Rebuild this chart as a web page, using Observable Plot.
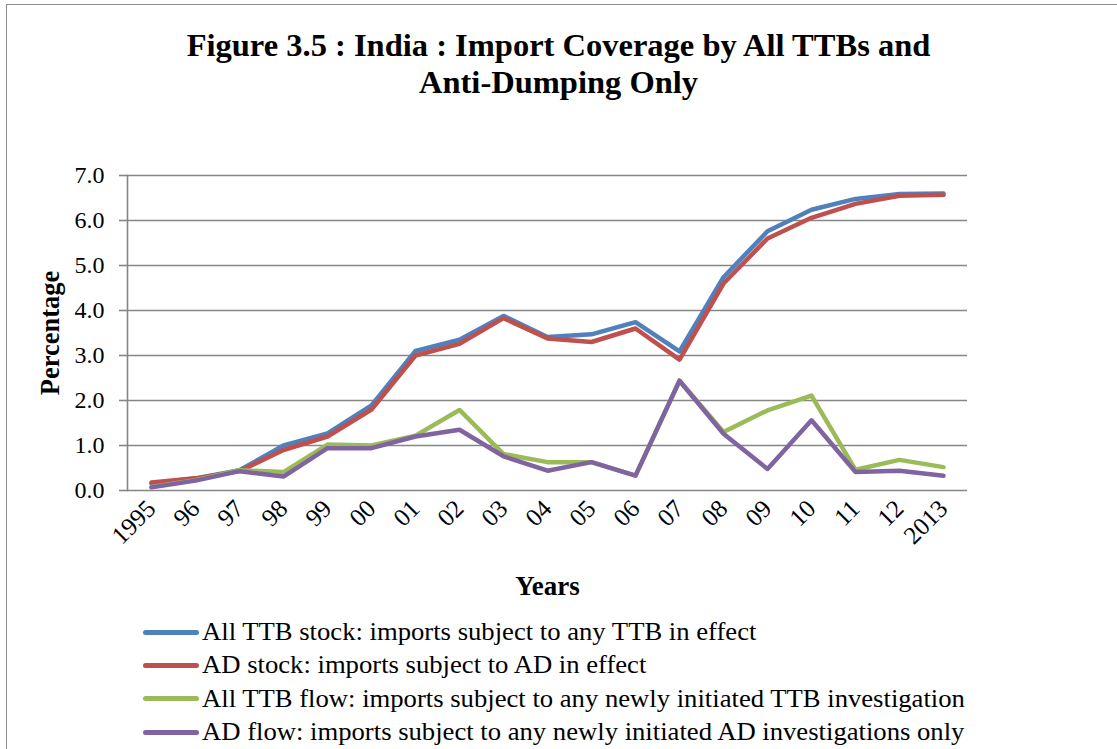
<!DOCTYPE html>
<html>
<head>
<meta charset="utf-8">
<script src="https://cdn.jsdelivr.net/npm/d3@7"></script>
<script src="https://cdn.jsdelivr.net/npm/@observablehq/plot@0.6"></script>
<style>
  html, body { margin: 0; padding: 0; background: #fff; overflow: hidden; }
  #page { position: relative; width: 1117px; height: 749px; overflow: hidden; font-family: "Liberation Serif", "Times New Roman", serif; color: #000; }
  #border { position: absolute; left: 6px; top: 4px; width: 1300px; height: 900px; border: 1.5px solid #8c8c8c; box-sizing: border-box; }
  #title { position: absolute; left: 0; width: 1117px; top: 27px; text-align: center; font-weight: bold; font-size: 32.5px; line-height: 37px; }
  #chart { position: absolute; left: 0; top: 140px; }
  #legend { position: absolute; left: 143px; top: 615px; font-size: 25px; }
  .row { position: absolute; left: 0; white-space: nowrap; height: 33px; line-height: 33px; }
  .sw { display: inline-block; width: 56px; height: 5px; border-radius: 3px; vertical-align: middle; margin-right: 3px; position: relative; top: -2px; }
  .lt { display: inline-block; transform: scaleX(1.066); transform-origin: left center; }
</style>
</head>
<body>
<div id="page">
  <div id="border"></div>
  <div id="title">Figure 3.5 : India : Import Coverage by All TTBs and<br>Anti-Dumping Only</div>
  <div id="chart"></div>
  <div id="legend"></div>
</div>
<script>
const years = ["1995","96","97","98","99","00","01","02","03","04","05","06","07","08","09","10","11","12","2013"];
const seriesNames = [
  "All TTB stock: imports subject to any TTB in effect",
  "AD stock: imports subject to AD in effect",
  "All TTB flow: imports subject to any newly initiated TTB investigation",
  "AD flow: imports subject to any newly initiated AD investigations only"
];
const seriesColors = ["#4F81BD", "#C0504D", "#9BBB59", "#8064A2"];
const allTTBStock = [0.15, 0.27, 0.45, 1.0, 1.27, 1.89, 3.1, 3.35, 3.88, 3.41, 3.47, 3.74, 3.09, 4.74, 5.76, 6.24, 6.48, 6.59, 6.6];
const adStock     = [0.18, 0.27, 0.43, 0.9, 1.2, 1.8, 3.0, 3.26, 3.83, 3.38, 3.3, 3.6, 2.91, 4.6, 5.6, 6.06, 6.37, 6.55, 6.57];
const allTTBFlow  = [0.08, 0.23, 0.45, 0.41, 1.02, 1.0, 1.22, 1.79, 0.81, 0.63, 0.63, 0.33, 2.44, 1.3, 1.78, 2.11, 0.46, 0.68, 0.52];
const adFlow      = [0.07, 0.22, 0.43, 0.31, 0.94, 0.94, 1.2, 1.35, 0.76, 0.44, 0.63, 0.33, 2.44, 1.26, 0.48, 1.56, 0.41, 0.44, 0.33];
const yTicks = [0, 1, 2, 3, 4, 5, 6, 7];

const seriesValues = [allTTBStock, adStock, allTTBFlow, adFlow];
const data = [];
seriesValues.forEach((vals, si) => vals.forEach((v, i) => data.push({series: seriesNames[si], year: years[i], value: v})));

const gridColor = "#868686";
const chart = Plot.plot({
  width: 1117,
  height: 470,
  marginLeft: 127,
  marginRight: 150,
  marginTop: 35,
  marginBottom: 120,
  style: {fontFamily: "'Liberation Serif', 'Times New Roman', serif", fontSize: "24px", color: "#000", background: "transparent"},
  x: {type: "point", domain: years, padding: 0.5, label: null},
  y: {domain: [0, 7], label: null},
  color: {domain: seriesNames, range: seriesColors},
  marks: [
    Plot.gridY(yTicks, {stroke: gridColor, strokeOpacity: 1, strokeWidth: 1.6}),
    Plot.frame({anchor: "left", stroke: gridColor, strokeWidth: 1.6}),
    Plot.axisY(yTicks, {tickSize: 8, tickPadding: 15, tickFormat: d => d.toFixed(1), stroke: gridColor, strokeWidth: 1.6, fill: "#000", label: null, fontSize: 24}),
    Plot.axisX({tickSize: 0, tickRotate: -45, tickPadding: 14, label: null, fontSize: 25, fill: "#000"}),
    Plot.line(data, {x: "year", y: "value", z: "series", stroke: "series", strokeWidth: 4.5, strokeLinejoin: "round", strokeLinecap: "round"}),
    Plot.text(["Percentage"], {frameAnchor: "left", textAnchor: "middle", text: d => d, rotate: -90, dx: -77, fontWeight: "bold", fontSize: 26.5}),
    Plot.text(["Years"], {frameAnchor: "bottom", textAnchor: "middle", text: d => d, dy: 104, fontWeight: "bold", fontSize: 27})
  ]
});
document.getElementById("chart").appendChild(chart);

const legend = document.getElementById("legend");
seriesNames.forEach((name, i) => {
  const row = document.createElement("div");
  row.className = "row";
  row.style.top = (i * 33.3) + "px";
  const sw = document.createElement("span");
  sw.className = "sw";
  sw.style.background = seriesColors[i];
  row.appendChild(sw);
  const t = document.createElement("span");
  t.className = "lt";
  t.textContent = name;
  row.appendChild(t);
  legend.appendChild(row);
});
</script>
</body>
</html>
